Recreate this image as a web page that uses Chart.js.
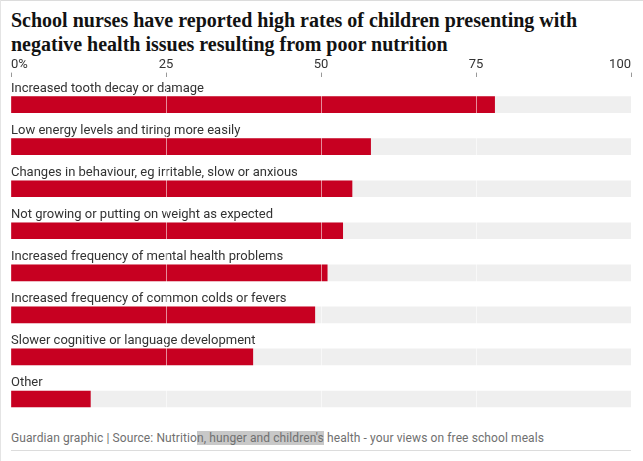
<!DOCTYPE html>
<html>
<head>
<meta charset="utf-8">
<script src="https://cdn.jsdelivr.net/npm/chart.js@4"></script>
<style>
  html, body { margin: 0; padding: 0; background: #fff; }
  body { width: 643px; height: 461px; position: relative; overflow: hidden; }
  .frame-top { position: absolute; left: 0; top: 0; width: 643px; height: 1px; background: #dcdcdc; }
  .frame-left { position: absolute; left: 0; top: 0; width: 1px; height: 461px; background: #e4e4e4; }
  h1 {
    position: absolute; left: 11px; top: 8px; margin: 0;
    font-family: 'Liberation Serif', serif; font-weight: bold; font-size: 20px;
    line-height: 24px; color: #121212; letter-spacing: 0;
  }
  #wrap { position: absolute; left: 0; top: 0; width: 643px; height: 430px; }
  .footer {
    position: absolute; left: 11px; top: 431px; line-height: 14px;
    font-family: Roboto, sans-serif; font-size: 12px; letter-spacing: 0.1px; color: #707070;
  }
  .footer .sel { background: #c8c8c8; }
  .rule { position: absolute; left: 11px; top: 450px; width: 620px; height: 1px; background: #dcdcdc; }
</style>
</head>
<body>
<div class="frame-top"></div>
<div class="frame-left"></div>
<h1>School nurses have reported high rates of children presenting with<br>negative health issues resulting from poor nutrition</h1>
<div id="wrap"><canvas id="chartNutrition"></canvas></div>
<div class="footer">Guardian graphic | Source: Nutritio<span class="sel">n, hunger and children's</span> health - your views on free school meals</div>
<div class="rule"></div>
<script>
// Datos
const categories = [
  'Increased tooth decay or damage',
  'Low energy levels and tiring more easily',
  'Changes in behaviour, eg irritable, slow or anxious',
  'Not growing or putting on weight as expected',
  'Increased frequency of mental health problems',
  'Increased frequency of common colds or fevers',
  'Slower cognitive or language development',
  'Other'
];
const percentages = [78, 58, 55, 53.5, 51, 49, 39, 12.8];
const trackValues = [100, 100, 100, 100, 100, 100, 100, 100];
const tickValues = [0, 25, 50, 75, 100];

// Etiquetas encima de cada barra
const barLabels = {
  id: 'barLabels',
  afterDatasetsDraw(chart) {
    const { ctx, chartArea, scales } = chart;
    ctx.save();
    ctx.font = '13px Roboto, sans-serif';
    ctx.fillStyle = '#333333';
    ctx.textAlign = 'left';
    ctx.textBaseline = 'alphabetic';
    categories.forEach((label, i) => {
      const y = scales.y.getPixelForValue(i);
      ctx.fillText(label, chartArea.left, y - 8 - 5);
    });
    ctx.restore();
  }
};

const ctx = document.getElementById('chartNutrition').getContext('2d');
new Chart(ctx, {
  type: 'bar',
  data: {
    datasets: [{
      data: percentages.map((v, i) => ({ x: v, y: i })),
      backgroundColor: '#c70021',
      barThickness: 16,
      grouped: false,
      order: 0
    }, {
      data: trackValues.map((v, i) => ({ x: v, y: i })),
      backgroundColor: '#efefef',
      barThickness: 16,
      grouped: false,
      order: 1
    }]
  },
  options: {
    indexAxis: 'y',
    responsive: true,
    maintainAspectRatio: false,
    animation: false,
    layout: { padding: { top: 57, left: 11, right: 12, bottom: 10 } },
    scales: {
      x: {
        position: 'top',
        min: 0,
        max: 100,
        afterBuildTicks: axis => { axis.ticks = tickValues.map(v => ({ value: v })); },
        ticks: {
          align: 'inner',
          padding: 0,
          color: '#333333',
          font: { family: 'Roboto, sans-serif', size: 13 },
          callback: v => v === 0 ? '0%' : v
        },
        grid: {
          z: 1,
          color: c => (c.tick && (c.tick.value === 0 || c.tick.value === 100)) ? 'rgba(0,0,0,0)' : 'rgba(255,255,255,0.55)',
          tickColor: '#999999',
          tickLength: 4,
          lineWidth: 1
        },
        border: { display: false }
      },
      y: {
        type: 'linear',
        reverse: true,
        offset: false,
        min: -2 / 3,
        max: 7.5,
        display: false
      }
    },
    plugins: {
      legend: { display: false },
      tooltip: { enabled: false }
    }
  },
  plugins: [barLabels]
});
</script>
</body>
</html>
